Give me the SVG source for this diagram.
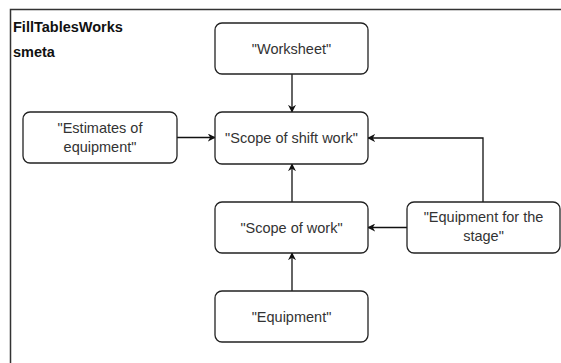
<svg xmlns="http://www.w3.org/2000/svg" width="561" height="363" viewBox="0 0 561 363">
<defs>
<style>
.node rect{fill:#fff;stroke:#222;stroke-width:1.3}
.node text{font-family:"Liberation Sans",Arial,sans-serif;font-size:14.5px;fill:#333;text-anchor:middle}
.title{font-family:"Liberation Sans",Arial,sans-serif;font-size:14.5px;font-weight:bold;fill:#111}
.edge{fill:none;stroke:#111;stroke-width:1.3}
</style>
<marker id="arr" viewBox="0 0 10 10" refX="9" refY="5" markerWidth="8" markerHeight="8" markerUnits="userSpaceOnUse" orient="auto">
<path d="M0,0 L10,5 L0,10 L3,5 Z" fill="#111"/>
</marker>
</defs>
<rect width="561" height="363" fill="#fff"/>
<g id="frame">
<path d="M10.5,370 V9.5 H570" fill="none" stroke="#333" stroke-width="1.5"/>
<text class="title" x="13" y="32">FillTablesWorks</text>
<text class="title" x="13" y="57">smeta</text>
</g>
<g id="connectors">
<path class="edge" d="M292,74 V112" marker-end="url(#arr)"/>
<path class="edge" d="M177,137.5 H215" marker-end="url(#arr)"/>
<path class="edge" d="M292,202 V164" marker-end="url(#arr)"/>
<path class="edge" d="M292,291 V253" marker-end="url(#arr)"/>
<path class="edge" d="M407,227.5 H368" marker-end="url(#arr)"/>
<path class="edge" d="M483,202 V138 H368" marker-end="url(#arr)"/>
</g>
<g id="worksheet" class="node">
<rect x="215" y="23" width="153" height="51" rx="7"/>
<text x="291.5" y="53.5">"Worksheet"</text>
</g>
<g id="shift" class="node">
<rect x="215" y="112" width="153" height="52" rx="7"/>
<text x="291.5" y="143">"Scope of shift work"</text>
</g>
<g id="estimates" class="node">
<rect x="23" y="112" width="154" height="51" rx="7"/>
<text x="100" y="133">"Estimates of</text>
<text x="100" y="152">equipment"</text>
</g>
<g id="scope" class="node">
<rect x="215" y="202" width="153" height="51" rx="7"/>
<text x="291.5" y="232.5">"Scope of work"</text>
</g>
<g id="stage" class="node">
<rect x="407" y="202" width="153" height="51" rx="7"/>
<text x="483.5" y="222">"Equipment for the</text>
<text x="483.5" y="241">stage"</text>
</g>
<g id="equipment" class="node">
<rect x="215" y="291" width="153" height="51" rx="7"/>
<text x="291.5" y="321.5">"Equipment"</text>
</g>
</svg>
